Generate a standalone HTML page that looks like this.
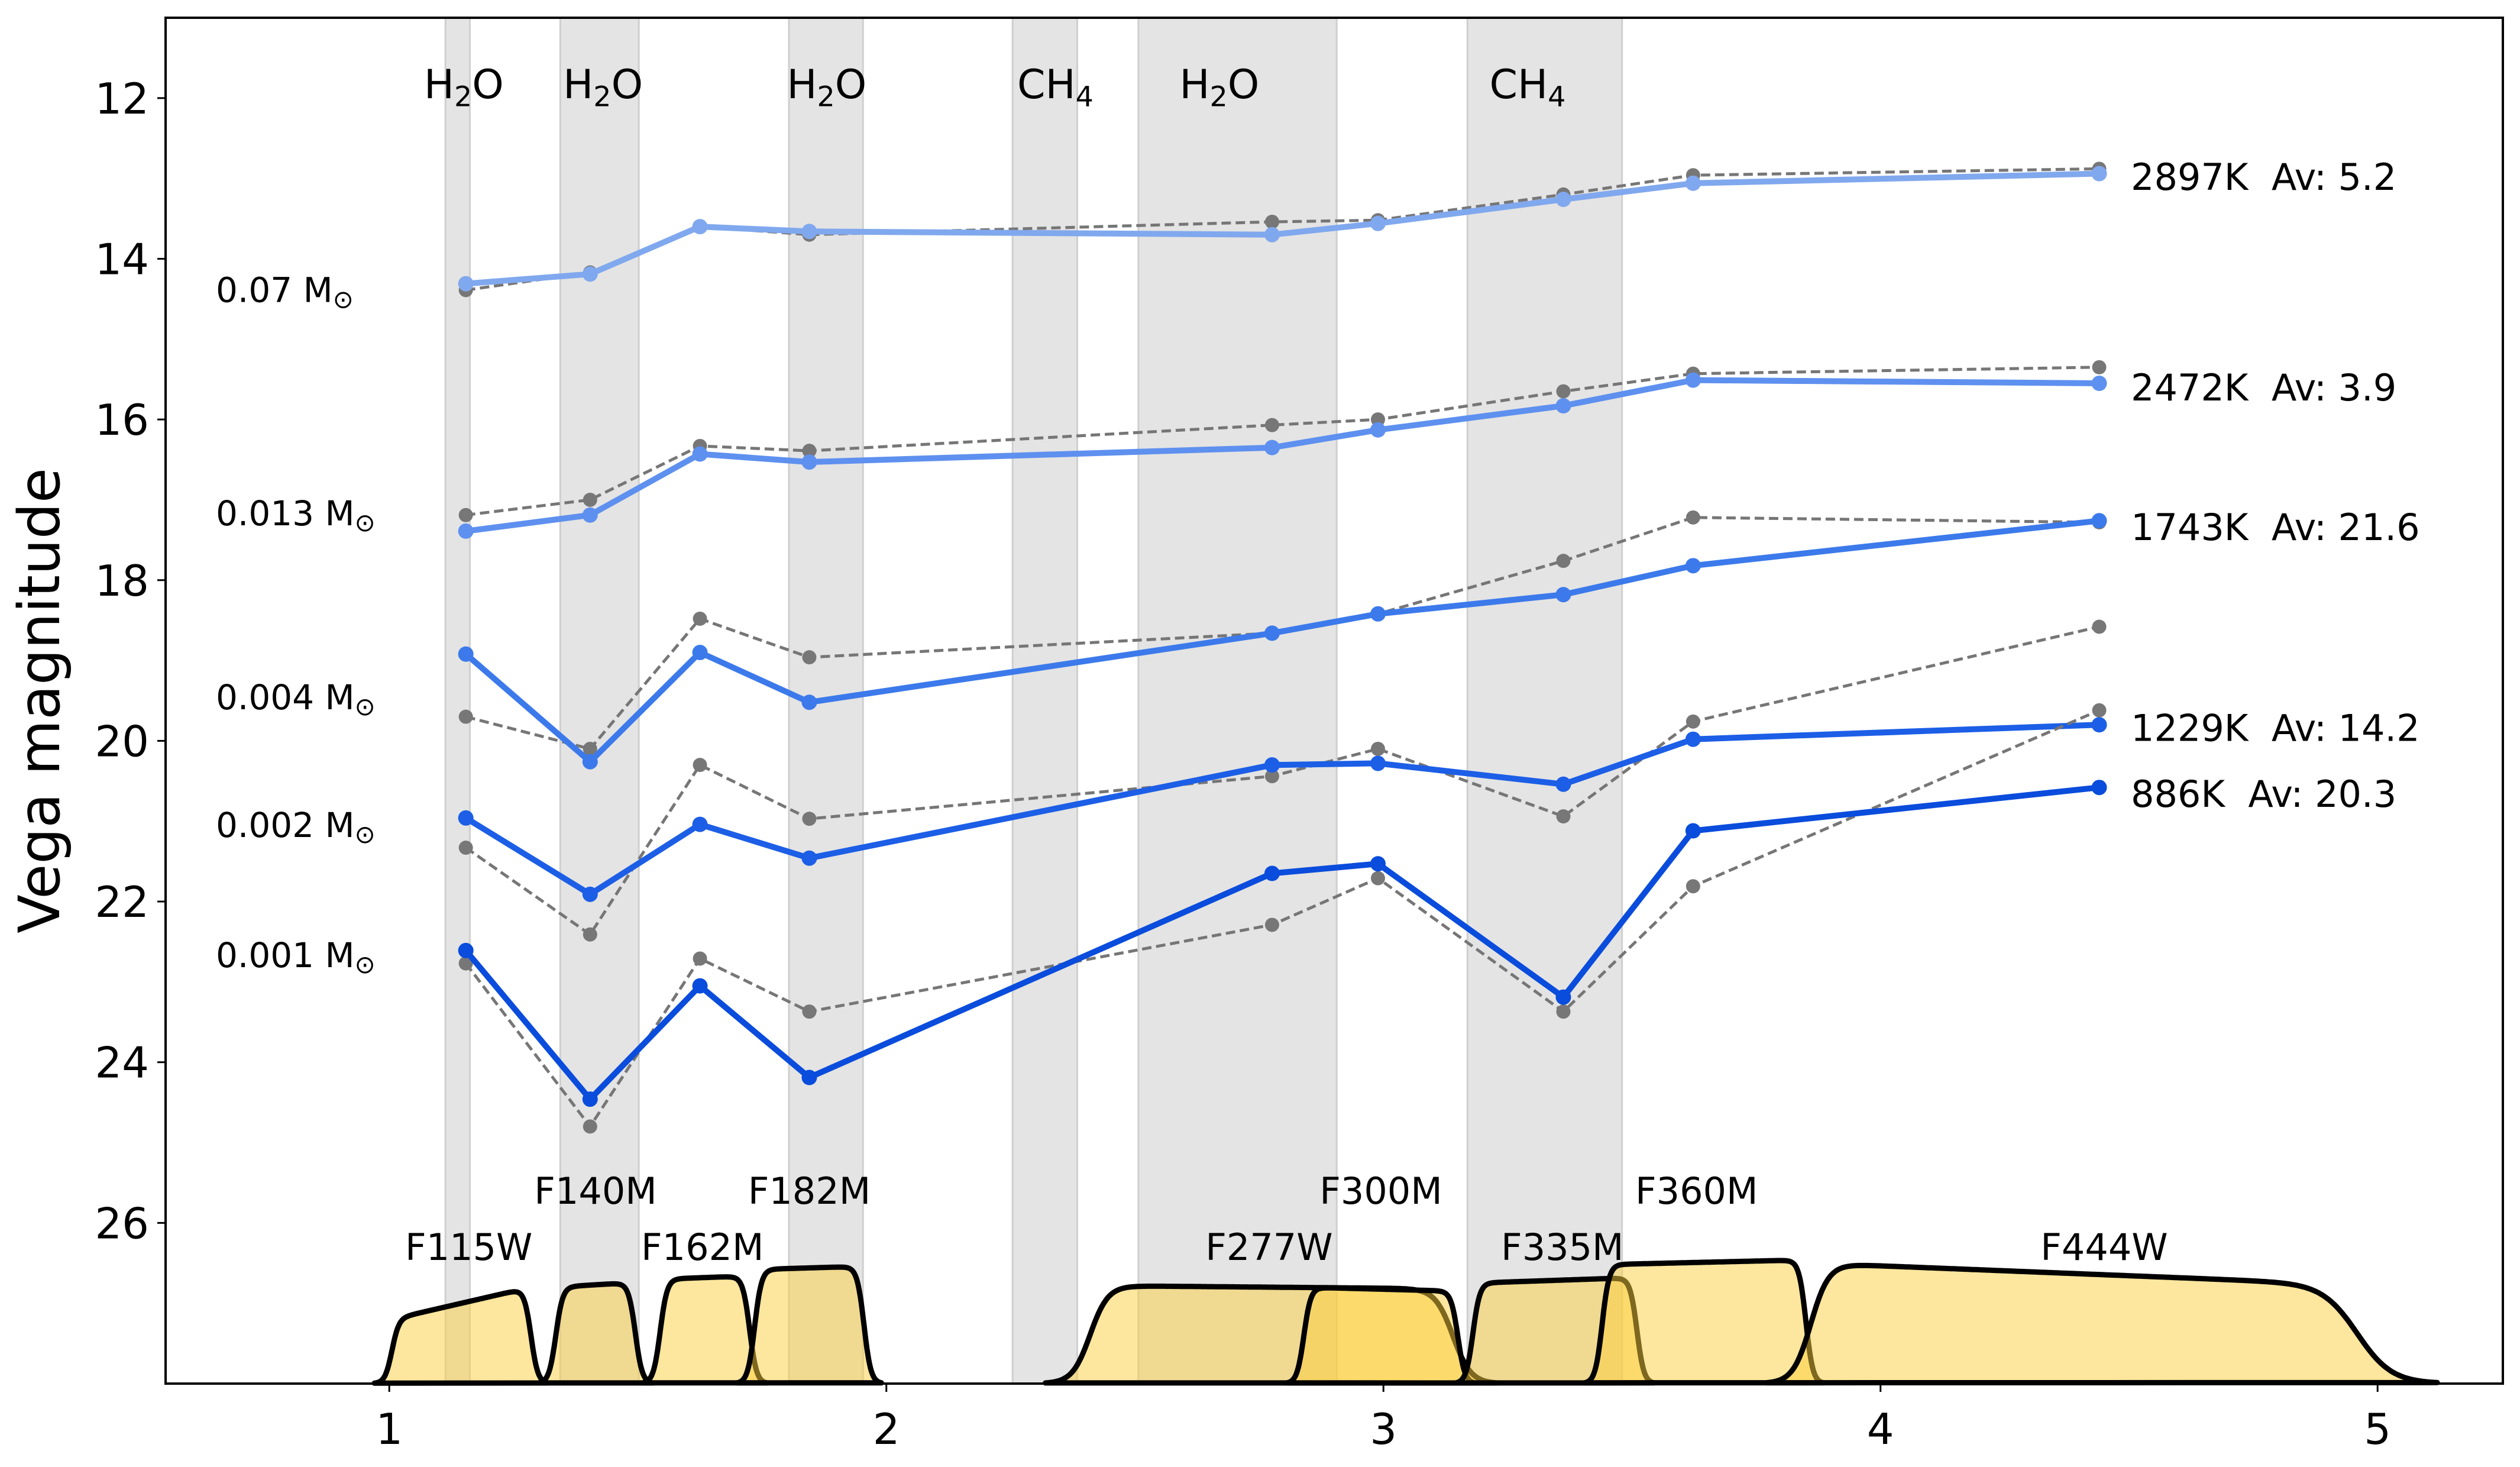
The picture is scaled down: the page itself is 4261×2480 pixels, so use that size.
<!DOCTYPE html>
<html><head><meta charset="utf-8"><style>
html,body{margin:0;padding:0;background:#fff;}
svg{display:block;font-family:"DejaVu Sans","Liberation Sans",sans-serif;}
</style></head><body>
<svg id="chart" width="4261" height="2480" viewBox="0 0 4261 2480" xmlns="http://www.w3.org/2000/svg">
<rect x="0" y="0" width="4261" height="2480" fill="#fff"/>
<g id="bands"></g>
<g id="filters"></g>
<g id="series"></g>
<g id="labels"></g>
<g id="axes"></g>
</svg>
<script>
// ---- data ----
const wavelengths = [1.154, 1.404, 1.625, 1.845, 2.776, 2.989, 3.362, 3.623, 4.44];
const massLabels = ["0.07", "0.013", "0.004", "0.002", "0.001"];
const massLabelY = [14.39, 17.17, 19.46, 21.05, 22.67];
const tempLabels = ["2897K  Av: 5.2", "2472K  Av: 3.9", "1743K  Av: 21.6", "1229K  Av: 14.2", "886K  Av: 20.3"];
const tempLabelY = [12.98, 15.6, 17.34, 19.84, 20.66];
const fitMag1 = [14.31, 14.19, 13.60, 13.66, 13.70, 13.56, 13.26, 13.06, 12.94];
const fitMag2 = [17.39, 17.19, 16.43, 16.53, 16.35, 16.13, 15.83, 15.51, 15.55];
const fitMag3 = [18.92, 20.26, 18.90, 19.52, 18.66, 18.42, 18.18, 17.82, 17.26];
const fitMag4 = [20.96, 21.91, 21.04, 21.46, 20.30, 20.28, 20.54, 19.98, 19.80];
const fitMag5 = [22.61, 24.46, 23.05, 24.19, 21.65, 21.53, 23.19, 21.12, 20.58];
const obsMag1 = [14.39, 14.17, 13.60, 13.70, 13.54, 13.52, 13.20, 12.96, 12.88];
const obsMag2 = [17.19, 17.00, 16.33, 16.39, 16.07, 16.00, 15.65, 15.43, 15.35];
const obsMag3 = [19.70, 20.10, 18.48, 18.96, 18.66, 18.42, 17.76, 17.22, 17.28];
const obsMag4 = [21.33, 22.41, 20.30, 20.97, 20.44, 20.10, 20.94, 19.76, 18.58];
const obsMag5 = [22.77, 24.80, 22.71, 23.37, 22.29, 21.71, 23.37, 21.81, 19.62];
const bandStart = [1.113, 1.344, 1.804, 2.254, 2.507, 3.169];
const bandEnd = [1.162, 1.502, 1.953, 2.384, 2.906, 3.480];
const bandNames = ["H2O", "H2O", "H2O", "CH4", "H2O", "CH4"];
const bandLabelX = [1.15, 1.43, 1.88, 2.34, 2.67, 3.29];
const filterNames = ["F115W","F140M","F162M","F182M","F277W","F300M","F335M","F360M","F444W"];
const filterLo = [1.005, 1.335, 1.545, 1.735, 2.41, 2.84, 3.18, 3.44, 3.86];
const filterHi = [1.285, 1.495, 1.725, 1.955, 3.14, 3.15, 3.51, 3.85, 5.08];
const filterTopL = [27.2, 26.8, 26.7, 26.58, 26.78, 26.8, 26.75, 26.52, 26.5];
const filterTopR = [26.8, 26.74, 26.66, 26.54, 26.82, 26.85, 26.68, 26.46, 26.8];
const filterLabelX = [1.16, 1.415, 1.63, 1.845, 2.77, 2.995, 3.36, 3.63, 4.45];
const filterLabelY = [26.3, 25.6, 26.3, 25.6, 26.3, 25.6, 26.3, 25.6, 26.3];
const xTicks = [1, 2, 3, 4, 5];
const yTicks = [12, 14, 16, 18, 20, 22, 24, 26];

// ---- axes ----
const L = 280, R = 4232, T = 30, B = 2339;
const XMIN = 0.55, XMAX = 5.252, YMIN = 11, YMAX = 28;
const sx = v => L + (v - XMIN) / (XMAX - XMIN) * (R - L);
const sy = v => T + (v - YMIN) / (YMAX - YMIN) * (B - T);
const NS = "http://www.w3.org/2000/svg";
function mk(tag, attrs, parent) {
  const e = document.createElementNS(NS, tag);
  for (const k in attrs) e.setAttribute(k, attrs[k]);
  parent.appendChild(e);
  return e;
}
const gB = document.getElementById('bands'), gF = document.getElementById('filters'),
      gS = document.getElementById('series'), gL = document.getElementById('labels'),
      gA = document.getElementById('axes');

function chem(parent, x, y, name, size) {
  const t = mk('text', {x: x, y: y, 'font-size': size, 'text-anchor': 'middle'}, parent);
  if (name === "H2O") {
    t.appendChild(document.createTextNode("H"));
    const s = mk('tspan', {'font-size': size * 0.7, dy: size * 0.2}, t); s.textContent = "2";
    const o = mk('tspan', {dy: -size * 0.2}, t); o.textContent = "O";
  } else {
    t.appendChild(document.createTextNode("CH"));
    const s = mk('tspan', {'font-size': size * 0.7, dy: size * 0.2}, t); s.textContent = "4";
  }
  return t;
}

// bands
for (let i = 0; i < bandStart.length; i++) {
  const r = mk('rect', {x: sx(bandStart[i]), y: T, width: sx(bandEnd[i]) - sx(bandStart[i]), height: B - T, fill: '#e4e4e4', stroke: '#cfcfcf', 'stroke-width': 3}, gB);
  
  
  const t = chem(gL, sx(bandLabelX[i]), sy(12.0), bandNames[i], 68);
  
  
}

// filters
for (let i = 0; i < filterNames.length; i++) {
  const lo = filterLo[i], hi = filterHi[i];
  const wide = (hi - lo) > 0.5;
  const k = wide ? 0.018 : 0.007;
  let d = "";
  const x0 = lo - 5 * k, x1 = (i === 8 ? 5.12 : hi + 5 * k), n = 240;
  for (let j = 0; j <= n; j++) {
    const x = x0 + (x1 - x0) * j / n;
    const f = Math.min(1, Math.max(0, (x - lo) / (hi - lo)));
    const top = filterTopL[i] + (filterTopR[i] - filterTopL[i]) * f;
    let amp = (YMAX - top) / (1 + Math.exp(-(x - lo) / k)) / (1 + Math.exp((x - hi) / k));
    if (i === 8) { // F444W tapering
      const taper = 1 / (1 + Math.exp((x - 4.96) / 0.035));
      amp = (YMAX - top) * taper / (1 + Math.exp(-(x - lo) / k));
    }
    d += (j ? "L" : "M") + sx(x).toFixed(1) + "," + sy(YMAX - amp).toFixed(1);
  }
  const p = mk('path', {d: d + "Z", fill: 'rgba(251,205,60,0.5)', stroke: '#000', 'stroke-width': 9, 'stroke-linejoin': 'round'}, gF);
  
  
  const t = mk('text', {x: sx(filterLabelX[i]), y: sy(filterLabelY[i]) + 22, 'font-size': 62, 'text-anchor': 'middle'}, gL);
  t.textContent = filterNames[i];
  
  
}

// series
const fits = [fitMag1, fitMag2, fitMag3, fitMag4, fitMag5];
const obs = [obsMag1, obsMag2, obsMag3, obsMag4, obsMag5];
const colors = ['#80a8ee', '#5e90ef', '#3c7aeb', '#1c5ee6', '#0a4cdc'];
for (let s = 0; s < 5; s++) {
  const g = mk('g', {}, gS);
  
  
  const po = wavelengths.map((w, i) => sx(w).toFixed(1) + "," + sy(obs[s][i]).toFixed(1)).join(" ");
  const lo = mk('polyline', {points: po, fill: 'none', stroke: '#767676', 'stroke-width': 5, 'stroke-dasharray': '16,8'}, g);
  
  
  wavelengths.forEach((w, i) => {
    const c = mk('circle', {cx: sx(w), cy: sy(obs[s][i]), r: 12, fill: '#777'}, g);
    
    
  });
  const pf = wavelengths.map((w, i) => sx(w).toFixed(1) + "," + sy(fits[s][i]).toFixed(1)).join(" ");
  const lf = mk('polyline', {points: pf, fill: 'none', stroke: colors[s], 'stroke-width': 10, 'stroke-linejoin': 'round'}, g);
  
  
  wavelengths.forEach((w, i) => {
    const c = mk('circle', {cx: sx(w), cy: sy(fits[s][i]), r: 13, fill: colors[s]}, g);
    
    
  });
  const ml = mk('text', {x: 365, y: sy(massLabelY[s]) + 20, 'font-size': 58}, gL);
  ml.appendChild(document.createTextNode(massLabels[s] + " M"));
  const sub = mk('tspan', {'font-size': 42, dy: 10}, ml); sub.textContent = "⊙";
  
  
  const tl = mk('text', {x: 3603, y: sy(tempLabelY[s]) + 22, 'font-size': 62}, gL);
  tl.textContent = tempLabels[s].replace("  ", "\u00a0\u00a0");
  
  
}

// axes
const frame = mk('rect', {x: L, y: T, width: R - L, height: B - T, fill: 'none', stroke: '#000', 'stroke-width': 4}, gA);


xTicks.forEach(v => {
  mk('line', {x1: sx(v), x2: sx(v), y1: B, y2: B + 14, stroke: '#000', 'stroke-width': 3}, gA);
  const t = mk('text', {x: sx(v), y: B + 102, 'font-size': 72, 'text-anchor': 'middle'}, gA);
  t.textContent = v;
  
  
});
yTicks.forEach(v => {
  mk('line', {x1: L - 14, x2: L, y1: sy(v), y2: sy(v), stroke: '#000', 'stroke-width': 3}, gA);
  const t = mk('text', {x: L - 28, y: sy(v) + 26, 'font-size': 72, 'text-anchor': 'end'}, gA);
  t.textContent = v;
  
  
});
const yt = mk('text', {x: 0, y: 0, 'font-size': 96, 'text-anchor': 'middle', transform: 'translate(100,' + (sy(19.5)) + ') rotate(-90)'}, gA);
yt.textContent = "Vega magnitude";


</script>
</body></html>
